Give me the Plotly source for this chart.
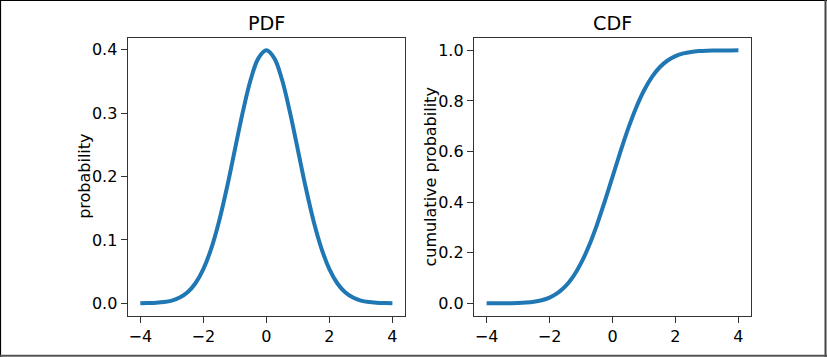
import plotly.graph_objects as go

# ---- data (standard normal) ----
x_vals = [-4.0, -3.75, -3.5, -3.25, -3.0, -2.75, -2.5, -2.25, -2.0, -1.75, -1.5, -1.25,
          -1.0, -0.75, -0.5, -0.25, 0.0, 0.25, 0.5, 0.75, 1.0, 1.25, 1.5, 1.75,
          2.0, 2.25, 2.5, 2.75, 3.0, 3.25, 3.5, 3.75, 4.0]
pdf_vals = [0.0001, 0.0004, 0.0009, 0.0020, 0.0044, 0.0091, 0.0175, 0.0317, 0.0540,
            0.0863, 0.1295, 0.1826, 0.2420, 0.3011, 0.3521, 0.3867, 0.3989,
            0.3867, 0.3521, 0.3011, 0.2420, 0.1826, 0.1295, 0.0863, 0.0540,
            0.0317, 0.0175, 0.0091, 0.0044, 0.0020, 0.0009, 0.0004, 0.0001]
cdf_vals = [0.0000, 0.0001, 0.0002, 0.0006, 0.0013, 0.0030, 0.0062, 0.0122, 0.0228,
            0.0401, 0.0668, 0.1056, 0.1587, 0.2266, 0.3085, 0.4013, 0.5000,
            0.5987, 0.6915, 0.7734, 0.8413, 0.8944, 0.9332, 0.9599, 0.9772,
            0.9878, 0.9938, 0.9970, 0.9987, 0.9994, 0.9998, 0.9999, 1.0000]

x_ticks = [-4, -2, 0, 2, 4]
x_ticktext = ["\u22124", "\u22122", "0", "2", "4"]
pdf_ticks = [0.0, 0.1, 0.2, 0.3, 0.4]
pdf_ticktext = ["0.0", "0.1", "0.2", "0.3", "0.4"]
cdf_ticks = [0.0, 0.2, 0.4, 0.6, 0.8, 1.0]
cdf_ticktext = ["0.0", "0.2", "0.4", "0.6", "0.8", "1.0"]

titles = ["PDF", "CDF"]
ylabels = ["probability", "cumulative probability"]

W, H = 827, 357
FONT = "DejaVu Sans"
BLUE = "#1f77b4"
TXT = "#000000"

def px(x):
    return x / W

def py(y):
    return 1 - y / H

fig = go.Figure()
fig.add_trace(go.Scatter(x=x_vals, y=pdf_vals, mode="lines", line=dict(color=BLUE, width=4, shape="spline"),
                         xaxis="x", yaxis="y", showlegend=False, hoverinfo="skip"))
fig.add_trace(go.Scatter(x=x_vals, y=cdf_vals, mode="lines", line=dict(color=BLUE, width=4, shape="spline"),
                         xaxis="x2", yaxis="y2", showlegend=False, hoverinfo="skip"))

axis_common = dict(showline=True, linecolor="#333333", linewidth=1.3, mirror=True,
                   ticks="outside", ticklen=6, tickwidth=1.3, tickcolor="#333333",
                   showgrid=False, zeroline=False, automargin=False,
                   tickfont=dict(family=FONT, size=16, color=TXT))

left = (127.7, 405.0)
right = (474.0, 751.0)
top, bottom = 37.7, 316.0

fig.update_layout(
    width=W, height=H,
    margin=dict(l=0, r=0, t=0, b=0),
    paper_bgcolor="white", plot_bgcolor="white",
    font=dict(family=FONT, size=16, color=TXT),
    xaxis=dict(domain=[px(left[0]), px(left[1])], range=[-4.4, 4.4],
               tickvals=x_ticks, ticktext=x_ticktext, anchor="y", **axis_common),
    yaxis=dict(domain=[py(bottom), py(top)], range=[-0.01995, 0.41884],
               tickvals=pdf_ticks, ticktext=pdf_ticktext, anchor="x", **axis_common),
    xaxis2=dict(domain=[px(right[0]), px(right[1])], range=[-4.4, 4.4],
                tickvals=x_ticks, ticktext=x_ticktext, anchor="y2", **axis_common),
    yaxis2=dict(domain=[py(bottom), py(top)], range=[-0.05, 1.05],
                tickvals=cdf_ticks, ticktext=cdf_ticktext, anchor="x2", **axis_common),
)

annotations = []
for (l, r), t in zip([left, right], titles):
    annotations.append(dict(text=t, x=px((l + r) / 2), y=py(top - 0.5), xref="paper", yref="paper",
                            xanchor="center", yanchor="bottom", showarrow=False,
                            font=dict(family=FONT, size=19.2, color=TXT)))
for cx, t in zip([85, 430.7], ylabels):
    annotations.append(dict(text=t, x=px(cx), y=py((top + bottom) / 2), xref="paper", yref="paper",
                            xanchor="center", yanchor="middle", textangle=-90, showarrow=False,
                            font=dict(family=FONT, size=16, color=TXT)))
fig.update_layout(annotations=annotations)

# outer frame
shapes = [
    dict(type="line", xref="paper", yref="paper", x0=px(0.5), x1=px(0.5), y0=py(0), y1=py(357),
         line=dict(color="black", width=1.2)),
    dict(type="line", xref="paper", yref="paper", x0=px(0), x1=px(827), y0=py(0.5), y1=py(0.5),
         line=dict(color="black", width=1.2)),
    dict(type="line", xref="paper", yref="paper", x0=px(825.5), x1=px(825.5), y0=py(0), y1=py(357),
         line=dict(color="#444444", width=2)),
    dict(type="line", xref="paper", yref="paper", x0=px(0), x1=px(827), y0=py(355.8), y1=py(355.8),
         line=dict(color="#555555", width=2)),
]
fig.update_layout(shapes=shapes)

fig.write_html("out.html", config={"displayModeBar": False},
               post_script="document.body.style.margin='0';document.body.style.overflow='hidden';")
